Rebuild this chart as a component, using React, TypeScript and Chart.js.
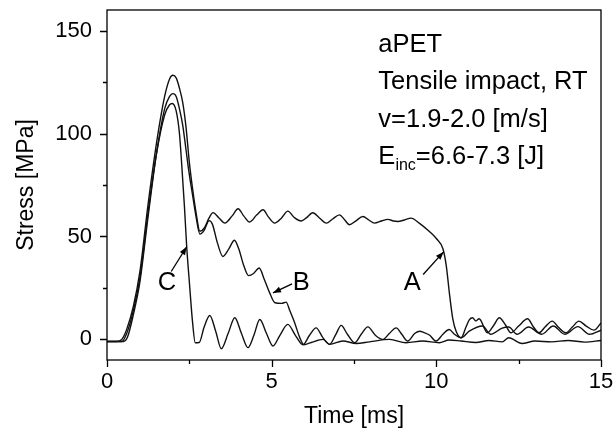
import React, { useEffect, useRef } from "react";
import { Chart, registerables } from "chart.js";

Chart.register(...registerables);

// Curve A
const timeA = [0, 0.3, 0.45, 0.6, 0.8, 1.0, 1.25, 1.5, 1.75, 1.9, 2.0, 2.1, 2.2, 2.3, 2.4, 2.5, 2.6, 2.7, 2.82, 2.95, 3.1, 3.22, 3.4, 3.58, 3.8, 3.98, 4.15, 4.33, 4.55, 4.74, 4.9, 5.09, 5.3, 5.49, 5.7, 5.9, 6.05, 6.25, 6.45, 6.66, 6.85, 7.06, 7.22, 7.36, 7.55, 7.77, 7.95, 8.12, 8.33, 8.53, 8.7, 8.83, 9.03, 9.23, 9.48, 9.79, 10.0, 10.2, 10.3, 10.4, 10.5, 10.6, 10.75, 10.9, 11.0, 11.1, 11.2, 11.3, 11.55, 11.75, 11.91, 12.1, 12.26, 12.5, 12.77, 12.95, 13.12, 13.3, 13.52, 13.7, 13.93, 14.13, 14.33, 14.55, 14.79, 15.0];
const stressA = [-1, -1, 0, 5, 16, 33, 66, 95, 118, 126.5, 128.3, 127, 122, 115, 103, 86, 73, 62, 52.5, 54, 59, 61.6, 59, 56.5, 60, 63.5, 60, 57, 60.5, 63, 59.5, 56.5, 59, 62.3, 59, 57.5, 59, 61.5, 59, 56.5, 58.5, 60.5, 58, 55.7, 57.5, 59.7, 58, 56.5, 57.5, 58.3, 57.5, 57.3, 58, 58.9, 56.5, 52.4, 49, 44, 36, 22, 10, 4, 0.8, 6, 9.5, 10.5, 9, 10, 3.2, 7, 10.5, 7, 3.2, 6.5, 10, 6, 3.2, 6, 8.9, 6, 3.2, 6, 8.9, 6.5, 4.5, 8];

// Curve B
const timeB = [0, 0.5, 0.62, 0.8, 1.0, 1.25, 1.5, 1.75, 1.9, 2.0, 2.1, 2.2, 2.3, 2.4, 2.5, 2.6, 2.7, 2.82, 2.95, 3.1, 3.2, 3.35, 3.52, 3.7, 3.87, 4.0, 4.15, 4.3, 4.45, 4.62, 4.78, 4.94, 5.1, 5.3, 5.44, 5.55, 5.7, 5.85, 5.98, 6.2, 6.56, 6.76, 7.16, 7.57, 7.97, 8.58, 9.08, 9.58, 10.09, 10.39, 10.75, 11.2, 11.6, 12.0, 12.2, 12.6, 13.0, 13.5, 14.0, 14.5, 15.0];
const stressB = [-1, -1, 1, 12, 28, 60, 90, 112, 118, 119.4, 118, 112, 104, 92, 80, 70, 60, 51.2, 53, 57.7, 56, 47, 40.3, 44, 48.2, 44, 36, 31, 32, 34.7, 29, 22.6, 17.8, 17.5, 18.1, 14, 8, 1, -2.6, -1.5, 0, -2.4, -0.8, -2, -1.2, 0, -1.6, -0.8, -1.6, -0.3, -0.8, -1.5, -0.5, -1.2, 0.8, -2, -0.8, -1.2, -0.5, -1.3, -0.5];

// Curve C
const timeC = [0, 0.45, 0.6, 0.8, 1.0, 1.25, 1.5, 1.75, 1.9, 1.98, 2.1, 2.2, 2.26, 2.35, 2.42, 2.5, 2.6, 2.68, 2.8, 2.95, 3.12, 3.3, 3.47, 3.68, 3.88, 4.08, 4.28, 4.46, 4.64, 4.84, 5.04, 5.25, 5.49, 5.72, 5.95, 6.15, 6.35, 6.55, 6.76, 6.95, 7.11, 7.3, 7.52, 7.72, 7.92, 8.15, 8.37, 8.58, 8.78, 8.95, 9.13, 9.35, 9.5, 9.6, 9.8, 9.99, 10.2, 10.39, 10.55, 10.75, 11.0, 11.4, 11.65, 12.0, 12.2, 12.45, 12.8, 13.2, 13.55, 13.9, 14.3, 14.65, 15.0];
const stressC = [-1, -1, 3, 14, 30, 62, 90, 109, 114, 114.6, 111, 100, 87, 65, 45, 28, 8, -1.6, -1.5, 6, 11.6, 4, -4.5, 3, 10.5, 3, -4, 2, 9.7, 3, -3.2, 2, 7.3, 2, -2.6, 2, 5.6, 1, -2.4, 2.5, 6.8, 2.5, -1.6, 2.5, 6.1, 2, 0, 3, 5.6, 2.5, -0.8, 3, 4, 3.5, 2, -0.8, 2.5, 4.8, 2.5, 0.8, 4, 6.5, 2.5, 5.5, 6, 2.5, 6, 2.5, 6.5, 2.5, 6.2, 2.5, 4.5];

const xMajor = [0, 5, 10, 15];
const xMinor = [2.5, 7.5, 12.5];
const yMajor = [0, 50, 100, 150];
const yMinor = [25, 75, 125];

const infoLines = ["aPET", "Tensile impact, RT", "v=1.9-2.0 [m/s]"];
const energyMain = "E";
const energySub = "inc";
const energyRest = "=6.6-7.3 [J]";

const FONT = "'Liberation Sans', Arial, Helvetica, sans-serif";

const toPoints = (t: number[], s: number[]) => t.map((v, i) => ({ x: v, y: s[i] }));

const overlay = {
  id: "overlay",
  afterDraw(chart: any) {
    const { ctx, chartArea: a, scales } = chart;
    const x = scales.x;
    const y = scales.y;
    const X = (v: number) => x.getPixelForValue(v);
    const Y = (v: number) => y.getPixelForValue(v);
    ctx.save();
    ctx.strokeStyle = "#000";
    ctx.lineWidth = 1.3;
    ctx.strokeRect(a.left, a.top, a.right - a.left, a.bottom - a.top);
    ctx.beginPath();
    xMajor.forEach((v) => { const p = Math.round(X(v)) + 0.5; ctx.moveTo(p, a.bottom); ctx.lineTo(p, a.bottom + 7); });
    xMinor.forEach((v) => { const p = Math.round(X(v)) + 0.5; ctx.moveTo(p, a.bottom); ctx.lineTo(p, a.bottom + 4); });
    yMajor.forEach((v) => { const p = Math.round(Y(v)) + 0.5; ctx.moveTo(a.left, p); ctx.lineTo(a.left - 7, p); });
    yMinor.forEach((v) => { const p = Math.round(Y(v)) + 0.5; ctx.moveTo(a.left, p); ctx.lineTo(a.left - 4, p); });
    ctx.stroke();

    // info text
    ctx.fillStyle = "#000";
    ctx.textAlign = "left";
    ctx.textBaseline = "alphabetic";
    ctx.font = `25.5px ${FONT}`;
    const tx = X(8.24);
    const baseVals = [139.6, 121.7, 103.3];
    infoLines.forEach((s, i) => ctx.fillText(s, tx, Y(baseVals[i])));
    const ey = Y(85.4);
    ctx.fillText(energyMain, tx, ey);
    let cx = tx + ctx.measureText(energyMain).width;
    ctx.font = `16px ${FONT}`;
    ctx.fillText(energySub, cx, ey + 6);
    cx += ctx.measureText(energySub).width;
    ctx.font = `25.5px ${FONT}`;
    ctx.fillText(energyRest, cx, ey);

    // curve labels with arrows
    const labels = [
      { t: "A", lx: 9.27, ly: 27.6, fx: 9.6, fy: 31.5, tx2: 10.22, ty2: 42.5 },
      { t: "B", lx: 5.9, ly: 27.6, fx: 5.62, fy: 27, tx2: 5.04, ty2: 22.6 },
      { t: "C", lx: 1.82, ly: 27.6, fx: 1.95, fy: 33, tx2: 2.42, ty2: 45 },
    ];
    ctx.textAlign = "center";
    ctx.textBaseline = "middle";
    labels.forEach((l) => {
      ctx.fillText(l.t, X(l.lx), Y(l.ly));
      const x1 = X(l.fx), y1 = Y(l.fy), x2 = X(l.tx2), y2 = Y(l.ty2);
      ctx.beginPath();
      ctx.lineWidth = 1.3;
      ctx.moveTo(x1, y1);
      ctx.lineTo(x2, y2);
      ctx.stroke();
      const ang = Math.atan2(y2 - y1, x2 - x1);
      const L = 8, W = 3;
      ctx.beginPath();
      ctx.moveTo(x2, y2);
      ctx.lineTo(x2 - L * Math.cos(ang) + W * Math.sin(ang), y2 - L * Math.sin(ang) - W * Math.cos(ang));
      ctx.lineTo(x2 - L * Math.cos(ang) - W * Math.sin(ang), y2 - L * Math.sin(ang) + W * Math.cos(ang));
      ctx.closePath();
      ctx.fill();
    });
    ctx.restore();
  },
};

export default function App() {
  const ref = useRef<HTMLCanvasElement | null>(null);
  useEffect(() => {
    if (!ref.current) return;
    const ds = (t: number[], s: number[]) => ({
      data: toPoints(t, s),
      borderColor: "#111",
      borderWidth: 1.4,
      pointRadius: 0,
      fill: false,
      cubicInterpolationMode: "monotone" as const,
    });
    const chart = new Chart(ref.current, {
      type: "line",
      data: { datasets: [ds(timeA, stressA), ds(timeB, stressB), ds(timeC, stressC)] },
      options: {
        animation: false,
        responsive: true,
        maintainAspectRatio: false,
        layout: { padding: { top: 10, right: 15, left: 0, bottom: 0 } },
        plugins: { legend: { display: false }, tooltip: { enabled: false } },
        scales: {
          x: {
            type: "linear",
            min: 0,
            max: 15,
            grid: { display: false, drawTicks: false },
            border: { display: false },
            afterBuildTicks: (s: any) => { s.ticks = xMajor.map((v) => ({ value: v })); },
            afterFit: (s: any) => { s.height = 78; s.paddingLeft = 0; s.paddingRight = 0; },
            ticks: { color: "#000", font: { family: FONT, size: 22 }, padding: 9, maxRotation: 0, autoSkip: false },
            title: { display: true, text: "Time [ms]", color: "#000", font: { family: FONT, size: 23 }, padding: { top: 0, bottom: 8 } },
          },
          y: {
            type: "linear",
            min: -10,
            max: 160,
            grid: { display: false, drawTicks: false },
            border: { display: false },
            afterBuildTicks: (s: any) => { s.ticks = yMajor.map((v) => ({ value: v })); },
            afterFit: (s: any) => { s.width = 107; s.paddingTop = 0; s.paddingBottom = 0; },
            ticks: { color: "#000", font: { family: FONT, size: 22 }, padding: 15, autoSkip: false },
            title: { display: true, text: "Stress [MPa]", color: "#000", font: { family: FONT, size: 23 }, padding: { top: 13, bottom: 0 } },
          },
        },
      },
      plugins: [overlay],
    });
    return () => chart.destroy();
  }, []);
  return (
    <div style={{ position: "fixed", left: 0, top: 0, width: 616, height: 438, background: "#fff" }}>
      <canvas ref={ref} />
    </div>
  );
}
